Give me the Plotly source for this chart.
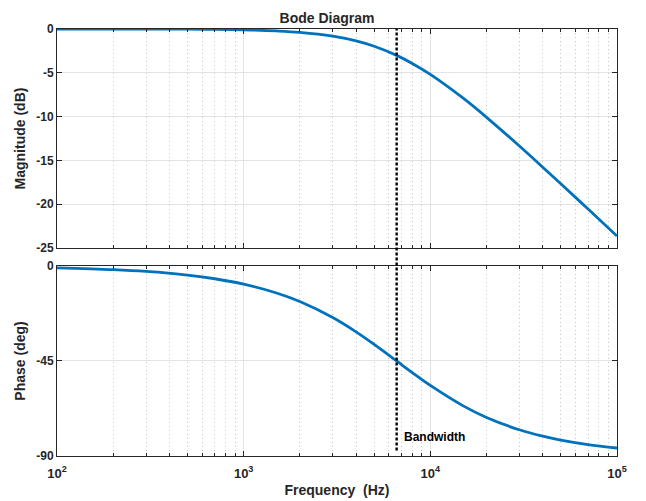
import math
import plotly.graph_objects as go
from plotly.subplots import make_subplots

freq_hz = [100, 200, 300, 500, 700, 1000, 1500, 2000, 3000, 4000, 5000, 6600,
           8000, 10000, 15000, 20000, 30000, 40000, 50000, 70000, 100000]
magnitude_db = [0.0, -0.004, -0.009, -0.025, -0.049, -0.099, -0.22, -0.38, -0.82,
                -1.36, -1.97, -3.01, -3.93, -5.18, -7.90, -10.08, -13.36, -15.77,
                -17.66, -20.55, -23.63]
phase_deg = [-0.87, -1.74, -2.60, -4.33, -6.05, -8.62, -12.8, -16.86, -24.44,
             -31.22, -37.15, -45.0, -50.47, -56.58, -66.25, -71.74, -77.58, -80.63,
             -82.48, -84.61, -86.22]
bandwidth_hz = 6600
x_tickvals = [100, 1000, 10000, 100000]
x_ticktext = ["10<sup>2</sup>", "10<sup>3</sup>", "10<sup>4</sup>", "10<sup>5</sup>"]
mag_ticks = [0, -5, -10, -15, -20, -25]
mag_ticktext = ["0", "-5", "-10", "-15", "-20", "-25"]
phase_ticks = [0, -45, -90]
phase_ticktext = ["0", "-45", "-90"]

minor_vals = [m * 10 ** e for e in (2, 3, 4) for m in range(2, 10)]

BLUE = "#0072BD"
FONT = "Liberation Sans"
TXT = "#262626"

fig = make_subplots(rows=2, cols=1, shared_xaxes=False, vertical_spacing=0.04)
fig.add_trace(go.Scatter(x=freq_hz, y=magnitude_db, mode="lines",
                         line=dict(color=BLUE, width=2.8, shape="spline"),
                         showlegend=False), row=1, col=1)
fig.add_trace(go.Scatter(x=freq_hz, y=phase_deg, mode="lines",
                         line=dict(color=BLUE, width=2.8, shape="spline"),
                         showlegend=False), row=2, col=1)

xcommon = dict(type="log", range=[2, 5], showline=True, linecolor=TXT,
               linewidth=1, mirror="ticks", ticks="inside", ticklen=5,
               tickcolor=TXT, showgrid=True, gridcolor="#e3e3e3",
               gridwidth=1, zeroline=False, tickvals=x_tickvals, automargin=False,
               minor=dict(tickvals=minor_vals, ticks="inside", ticklen=3,
                          tickcolor=TXT, showgrid=True,
                          gridcolor="#c8c8c8", griddash="1px,3px", gridwidth=1))
ycommon = dict(showline=True, linecolor=TXT, linewidth=1, mirror="ticks",
               ticks="inside", ticklen=5, tickcolor=TXT, showgrid=True,
               gridcolor="#e3e3e3", gridwidth=1, zeroline=False, automargin=False,
               tickfont=dict(family=FONT, size=12, color=TXT, weight="bold"),
               title_font=dict(family=FONT, size=14, color=TXT, weight="bold"),
               title_standoff=7)

fig.update_xaxes(**xcommon, showticklabels=False, domain=[0, 1], row=1, col=1)
fig.update_xaxes(**xcommon, ticktext=x_ticktext, domain=[0, 1], ticklabelstandoff=5,
                 tickfont=dict(family=FONT, size=13, color=TXT, weight="bold"),
                 title=dict(text="Frequency  (Hz)", standoff=5,
                            font=dict(family=FONT, size=14, color=TXT, weight="bold")),
                 row=2, col=1)
fig.update_yaxes(**ycommon, range=[-25, 0], tickvals=mag_ticks, ticktext=mag_ticktext,
                 title_text="Magnitude (dB)", domain=[0.487, 1], row=1, col=1)
fig.update_yaxes(**ycommon, range=[-90, 0], tickvals=phase_ticks, ticktext=phase_ticktext,
                 title_text="Phase (deg)", domain=[0, 0.445], row=2, col=1)

fig.add_shape(type="line", xref="x", yref="paper", x0=bandwidth_hz, x1=bandwidth_hz,
              y0=0.013, y1=1, line=dict(color="black", width=2.4, dash="3px,2px"))

fig.add_annotation(x=math.log10(bandwidth_hz) + 0.03, y=-81, xref="x2", yref="y2",
                   text="Bandwidth", showarrow=False, xanchor="left", yanchor="middle",
                   font=dict(family=FONT, size=12, color="black", weight="bold"))

fig.update_layout(
    width=638, height=493,
    margin=dict(l=49, r=29, t=21, b=45),
    paper_bgcolor="white", plot_bgcolor="white",
    title=dict(text="Bode Diagram", x=0.5, xanchor="center", y=0.98, yanchor="middle",
               font=dict(family=FONT, size=14, color=TXT, weight="bold")),
)

fig.write_html("out.html")
